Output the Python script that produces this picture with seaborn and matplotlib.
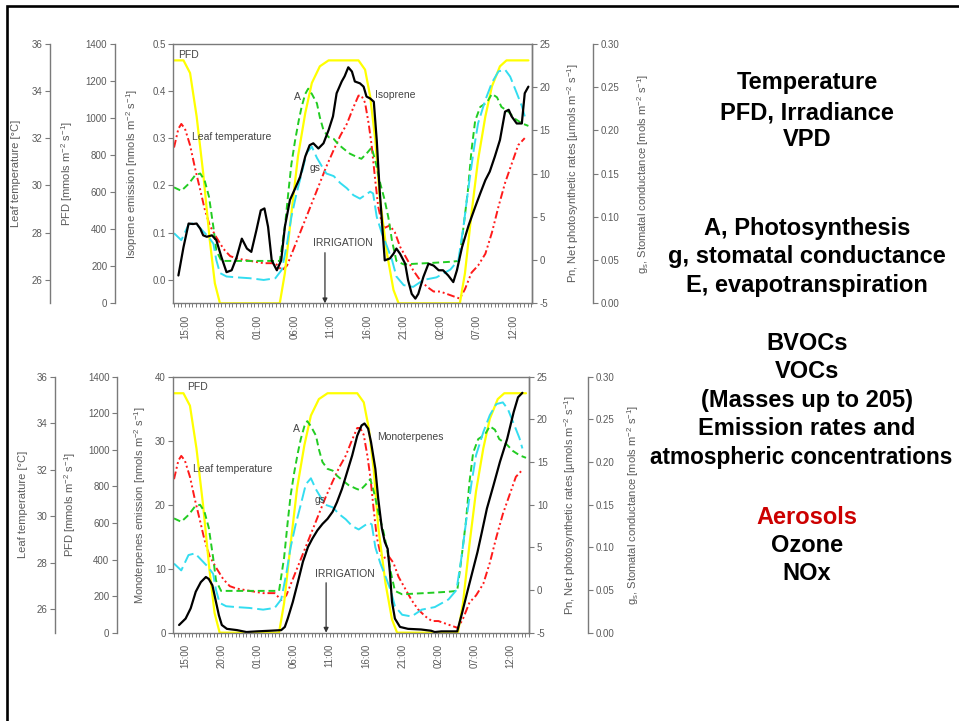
import matplotlib
matplotlib.use("Agg")
import matplotlib.pyplot as plt
import matplotlib.ticker as mticker
from matplotlib.patches import Rectangle
import seaborn as sns

# time axis: hours counted from 15:00 of the first day
time_ticks = [0, 5, 10, 15, 20, 25, 30, 35, 40, 45]
time_labels = ["15:00", "20:00", "01:00", "06:00", "11:00",
               "16:00", "21:00", "02:00", "07:00", "12:00"]

# PFD [mmols m-2 s-1]
t_pfd = [-1.6, -0.2, 0.7, 1.6, 2.5, 3.4, 4.1, 4.8, 13.0, 13.7, 14.6, 15.5, 16.5,
         17.4, 18.5, 19.7, 23.8, 24.7, 25.4, 26.1, 26.7, 27.7, 28.6, 29.3, 37.7,
         38.4, 39.3, 40.2, 41.2, 42.1, 43.2, 44.1, 47.1]
pfd = [1310, 1310, 1242, 1008, 702, 342, 108, 0, 0, 162, 486, 792, 1026,
       1188, 1278, 1310, 1310, 1260, 1116, 882, 576, 270, 72, 0, 0,
       162, 486, 774, 1008, 1170, 1278, 1310, 1310]

# leaf temperature [C]
t_temp = [-1.5, -0.9, -0.5, 0.0, 0.7, 1.4, 2.1, 2.7, 3.4, 4.3, 5.3, 6.2, 7.1, 8.9,
          10.8, 12.4, 13.3, 14.0, 14.9, 15.8, 16.7, 17.6, 18.5, 19.4, 20.4, 21.3,
          22.2, 23.1, 23.8, 24.2, 24.7, 25.2, 25.6, 26.1, 26.5, 27.0, 27.4, 28.1,
          28.8, 29.5, 30.4, 31.3, 32.2, 33.2, 34.1, 35.0, 35.9, 36.8, 37.7, 38.4,
          39.3, 40.2, 41.2, 42.1, 43.0, 43.9, 44.8, 45.7, 46.6]
temp = [31.6, 32.4, 32.6, 32.4, 31.7, 30.7, 29.8, 29.0, 28.3, 27.8, 27.3, 27.0, 26.9, 26.8,
        26.7, 26.7, 26.4, 26.6, 27.3, 28.0, 28.7, 29.4, 30.1, 30.8, 31.5, 32.1,
        32.6, 33.3, 33.8, 33.8, 33.5, 32.6, 31.7, 30.2, 29.1, 28.4, 28.2, 28.3,
        28.0, 27.4, 26.9, 26.4, 26.0, 25.7, 25.5, 25.5, 25.4, 25.3, 25.2, 25.6,
        26.3, 26.6, 27.1, 28.0, 29.1, 30.1, 30.9, 31.7, 32.0]

# A, net photosynthetic rate [umols m-2 s-1]
t_a = [-1.5, -0.5, 0.5, 1.4, 2.1, 2.7, 3.3, 3.9, 4.3, 5.0, 7.1, 9.8, 13.0, 13.7,
       14.2, 14.6, 15.1, 15.6, 16.0, 16.5, 16.9, 17.4, 18.1, 18.5, 19.0, 19.7,
       20.4, 21.0, 21.7, 22.6, 23.6, 24.2, 24.9, 25.6, 26.1, 26.8, 27.4, 27.9,
       28.4, 29.0, 30.0, 32.2, 34.5, 36.4, 37.6, 38.2, 38.8, 39.3, 39.8, 40.5,
       41.4, 42.1, 42.8, 43.4, 44.4, 45.3, 46.2, 47.1]
a_rate = [8.4, 8.0, 8.8, 9.8, 10.0, 9.2, 7.3, 3.8, 1.1, -0.1, -0.1, -0.1, -0.1, 3.8,
          8.0, 11.1, 13.8, 16.1, 17.7, 19.2, 19.8, 19.2, 18.1, 16.5, 15.0, 14.2,
          14.0, 13.4, 12.9, 12.3, 11.9, 11.7, 12.3, 13.0, 11.5, 8.8, 6.9, 4.9,
          2.2, -0.1, -0.5, -0.4, -0.3, -0.2, -0.1, 3.8, 8.0, 12.7, 16.1, 17.7,
          18.2, 19.2, 18.8, 17.7, 17.1, 16.3, 15.8, 15.5]

# gs, stomatal conductance [mols m-2 s-1]
t_gs = [-1.5, -0.5, 0.5, 1.4, 2.3, 3.2, 3.9, 4.3, 4.8, 5.7, 7.1, 8.9, 10.8, 12.4,
        13.3, 14.0, 14.6, 15.3, 16.0, 16.7, 17.4, 18.1, 18.8, 19.4, 20.4, 21.3,
        22.2, 23.1, 24.0, 24.7, 25.4, 25.8, 26.3, 27.0, 27.7, 28.4, 29.0, 30.0,
        31.3, 32.7, 34.5, 36.4, 37.5, 38.2, 38.9, 39.6, 40.2, 41.2, 42.1, 43.0,
        43.9, 44.6, 45.5, 46.2, 46.6]
gs = [0.081, 0.073, 0.091, 0.093, 0.085, 0.077, 0.069, 0.050, 0.035, 0.031, 0.030, 0.029,
      0.027, 0.029, 0.039, 0.069, 0.100, 0.127, 0.150, 0.174, 0.181, 0.168, 0.158, 0.150,
      0.147, 0.139, 0.133, 0.125, 0.121, 0.125, 0.129, 0.127, 0.100, 0.081, 0.066, 0.050,
      0.031, 0.021, 0.019, 0.027, 0.030, 0.039, 0.050, 0.089, 0.135, 0.177, 0.208, 0.235,
      0.255, 0.268, 0.270, 0.262, 0.243, 0.228, 0.216]

# isoprene emission [nmols m-2 s-1]
t_iso = [-0.9, -0.2, 0.5, 1.1, 1.6, 2.1, 2.5, 3.0, 3.7, 4.3, 5.0, 5.7, 6.4, 7.1, 7.8,
         8.5, 9.1, 9.8, 10.4, 10.9, 11.4, 11.9, 12.6, 13.2, 13.7, 14.4, 15.1, 15.8,
         16.5, 17.1, 17.6, 18.3, 19.0, 19.7, 20.3, 20.8, 21.5, 21.9, 22.4, 22.9,
         23.3, 24.0, 24.5, 24.9, 25.4, 25.9, 26.3, 26.7, 27.2, 27.4, 28.1, 28.6,
         29.0, 29.5, 30.2, 30.6, 31.1, 31.6, 32.0, 32.7, 33.4, 34.1, 34.8, 35.4,
         36.1, 36.8, 37.3, 38.0, 38.9, 39.8, 40.5, 41.2, 41.8, 42.5, 43.2, 43.9,
         44.4, 44.8, 45.5, 46.2, 46.6, 47.1]
iso = [0.009, 0.069, 0.119, 0.118, 0.119, 0.108, 0.094, 0.091, 0.094, 0.084, 0.048, 0.016,
       0.020, 0.048, 0.087, 0.066, 0.059, 0.105, 0.147, 0.151, 0.112, 0.041, 0.020, 0.041,
       0.112, 0.169, 0.193, 0.218, 0.261, 0.285, 0.289, 0.278, 0.289, 0.317, 0.346, 0.395,
       0.420, 0.431, 0.450, 0.441, 0.420, 0.416, 0.409, 0.388, 0.384, 0.377, 0.296, 0.190,
       0.084, 0.041, 0.045, 0.055, 0.066, 0.055, 0.034, -0.001, -0.030, -0.040, -0.030, 0.006,
       0.034, 0.030, 0.020, 0.020, 0.009, -0.005, 0.020, 0.069, 0.115, 0.154, 0.183, 0.211,
       0.229, 0.261, 0.296, 0.356, 0.360, 0.346, 0.331, 0.331, 0.395, 0.409]

# monoterpenes emission [nmols m-2 s-1]
t_mono = [-0.8, 0.1, 0.8, 1.5, 2.2, 2.9, 3.3, 3.8, 4.2, 4.7, 5.1, 5.8, 7.2, 8.5, 9.9,
          11.7, 13.3, 13.8, 14.2, 14.9, 15.6, 16.3, 17.0, 17.6, 18.3, 19.0, 19.7,
          20.4, 21.0, 21.7, 22.4, 23.1, 23.8, 24.4, 24.8, 25.3, 25.7, 26.3, 26.7,
          27.2, 27.6, 28.0, 28.3, 28.6, 29.0, 29.7, 30.8, 32.6, 34.0, 34.5, 35.4,
          36.7, 37.6, 38.3, 39.0, 39.7, 40.4, 41.0, 41.7, 42.6, 43.5, 44.5, 45.4,
          46.0, 46.6]
mono = [1.2, 2.2, 3.8, 6.4, 7.9, 8.7, 8.4, 7.4, 5.3, 2.7, 1.2, 0.6, 0.4, 0.1, 0.2,
        0.3, 0.4, 0.9, 2.2, 4.8, 7.9, 11.1, 13.4, 14.7, 16.0, 17.0, 17.8,
        18.9, 20.4, 22.5, 25.1, 27.7, 30.8, 32.4, 32.7, 31.9, 29.8, 25.6, 20.9,
        16.3, 14.2, 13.1, 9.5, 4.8, 2.2, 0.9, 0.6, 0.5, 0.3, 0.1, 0.2,
        0.2, 0.2, 3.2, 6.4, 9.5, 12.6, 15.7, 19.4, 23.0, 26.7, 30.3, 34.5,
        36.8, 37.5]

side_lines = [
    ("Temperature", 82, "black"), ("PFD, Irradiance", 113, "black"), ("VPD", 140, "black"),
    ("A, Photosynthesis", 228, "black"), ("g, stomatal conductance", 256, "black"),
    ("E, evapotranspiration", 285, "black"),
    ("BVOCs", 343, "black"), ("VOCs", 372, "black"), ("(Masses up to 205)", 401, "black"),
    ("Emission rates and", 429, "black"), ("atmospheric concentrations", 457, "black"),
    ("Aerosols", 517, "#cc0000"), ("Ozone", 545, "black"), ("NOx", 573, "black"),
]

sns.set_style("ticks")
plt.rcParams["font.family"] = ["Liberation Sans", "DejaVu Sans"]
plt.rcParams["mathtext.default"] = "regular"

GREY = "#7a7a7a"
TXT = "#5a5a5a"
UNIT = " [nmols m$^{-2}$ s$^{-1}$]"

fig = plt.figure(figsize=(9.59, 7.21), dpi=100)


def style_y(a, side, ticks, fmt):
    a.set_yticks(ticks)
    a.yaxis.set_major_formatter(mticker.FormatStrFormatter(fmt))
    a.tick_params(axis="y", which="both", direction="out", length=3.5, width=0.8,
                  color=GREY, labelcolor=TXT, labelsize=7, pad=2)
    if side == "left":
        a.yaxis.tick_left()
        a.yaxis.set_label_position("left")


def panel(rect, t_black, v_black, black_name, ylim, yticks, yfmt, sp, lab, notes, arrow_x):
    ax = fig.add_axes(rect)
    ax_t = ax.twinx()
    ax_p = ax.twinx()
    ax_n = ax.twinx()
    ax_g = ax.twinx()

    sns.lineplot(x=t_pfd, y=pfd, ax=ax_p, color="#ffff00", lw=1.6, estimator=None)
    sns.lineplot(x=t_temp, y=temp, ax=ax_t, color="#ff1a1a", lw=1.4, estimator=None,
                 linestyle=(0, (4, 1.5, 1, 1.5, 1, 1.5)))
    sns.lineplot(x=t_a, y=a_rate, ax=ax_n, color="#22cc22", lw=1.4, estimator=None,
                 linestyle=(0, (3.5, 2)))
    sns.lineplot(x=t_gs, y=gs, ax=ax_g, color="#33ddf0", lw=1.4, estimator=None,
                 linestyle=(0, (7, 2.5)))
    sns.lineplot(x=t_black, y=v_black, ax=ax, color="black", lw=1.6, estimator=None)

    for a in (ax, ax_t, ax_p, ax_n, ax_g):
        a.set_xlim(-1.6, 47.55)
        a.set_xlabel("")
        a.set_ylabel("")

    # main axis (emission) with the full box
    ax.set_ylim(*ylim)
    style_y(ax, "left", yticks, yfmt)
    for s in ax.spines.values():
        s.set_color(GREY)
        s.set_linewidth(1.0)
    ax.set_zorder(5)
    ax.patch.set_visible(False)
    ax.set_ylabel(black_name + UNIT, fontsize=8, color=TXT)
    ax.yaxis.set_label_coords(lab[2], 0.5)

    ax.set_xticks(time_ticks)
    ax.set_xticklabels(time_labels, rotation=90)
    ax.xaxis.set_minor_locator(mticker.MultipleLocator(0.5))
    ax.tick_params(axis="x", which="both", direction="out", length=3, width=0.7,
                   color=GREY, labelcolor=TXT, labelsize=7, pad=5)

    # offset left axes: leaf temperature and PFD
    for a, pos, lim, ticks, fmt, name, lx in (
            (ax_t, sp[0], (25, 36), range(26, 37, 2), "%d", "Leaf temperature [\u00b0C]", lab[0]),
            (ax_p, sp[1], (0, 1400), range(0, 1401, 200), "%d", "PFD [mmols m$^{-2}$ s$^{-1}$]", lab[1])):
        a.set_ylim(*lim)
        style_y(a, "left", list(ticks), fmt)
        for k in ("right", "top", "bottom"):
            a.spines[k].set_visible(False)
        a.spines["left"].set_position(("axes", pos))
        a.spines["left"].set_color(GREY)
        a.spines["left"].set_linewidth(1.0)
        a.set_ylabel(name, fontsize=8, color=TXT)
        a.yaxis.set_label_coords(lx, 0.5)

    # right axes: photosynthesis and stomatal conductance
    for a, pos, lim, ticks, fmt, name, lx in (
            (ax_n, 1.0, (-5, 25), range(-5, 26, 5), "%d",
             "Pn, Net photosynthetic rates [\u00b5mols m$^{-2}$ s$^{-1}$]", lab[3]),
            (ax_g, sp[2], (0, 0.30), [0, 0.05, 0.10, 0.15, 0.20, 0.25, 0.30], "%.2f",
             "g$_s$, Stomatal conductance [mols m$^{-2}$ s$^{-1}$]", lab[4])):
        a.set_ylim(*lim)
        style_y(a, "right", list(ticks), fmt)
        for k in ("left", "top", "bottom"):
            a.spines[k].set_visible(False)
        a.spines["right"].set_position(("axes", pos))
        a.spines["right"].set_color(GREY)
        a.spines["right"].set_linewidth(1.0)
        a.set_ylabel(name, fontsize=8, color=TXT)
        a.yaxis.set_label_coords(lx, 0.5)

    for s, fx, fy, ha in notes:
        ax.text(fx, fy, s, transform=ax.transAxes, fontsize=7.5, color="#444444",
                ha=ha, va="center")
    ax.annotate("", xy=(arrow_x, 0.0), xytext=(arrow_x, 0.195),
                xycoords=("data", "axes fraction"), textcoords=("data", "axes fraction"),
                arrowprops=dict(arrowstyle="-|>", color="#333333", lw=0.9,
                                mutation_scale=7, shrinkA=0, shrinkB=0))
    return ax


panel([0.1807, 0.5793, 0.3737, 0.3601], t_iso, iso, "Isoprene emission",
      (-0.05, 0.5), [0.0, 0.1, 0.2, 0.3, 0.4, 0.5], "%.1f",
      (-0.344, -0.163, 1.171), (-0.425, -0.274, -0.093, 1.093, 1.288),
      [("PFD", 0.013, 0.957, "left"), ("A", 0.345, 0.795, "center"),
       ("Isoprene", 0.562, 0.802, "left"), ("Leaf temperature", 0.052, 0.641, "left"),
       ("gs", 0.381, 0.521, "left"), ("IRRIGATION", 0.39, 0.232, "left")],
      19.2)

panel([0.1807, 0.1225, 0.3712, 0.3549], t_mono, mono, "Monoterpenes emission",
      (0, 40), [0, 10, 20, 30, 40], "%d",
      (-0.332, -0.158, 1.165), (-0.408, -0.268, -0.071, 1.092, 1.269),
      [("PFD", 0.038, 0.960, "left"), ("A", 0.347, 0.796, "center"),
       ("Monoterpenes", 0.572, 0.765, "left"), ("Leaf temperature", 0.055, 0.639, "left"),
       ("gs", 0.398, 0.519, "left"), ("IRRIGATION", 0.398, 0.229, "left")],
      19.5)

for text, ypix, col in side_lines:
    # the widest line is kept inside the right edge
    wide = text.startswith("atmospheric")
    fig.text((801 if wide else 807) / 959, 1 - ypix / 721, text, ha="center", va="center",
             fontsize=16.3 if wide else 17, fontweight="bold", color=col)

# slide frame (top and left edges are visible)
fig.add_artist(Rectangle((6.5 / 959, -0.05), 1.2, 1.05 - 6.3 / 721, transform=fig.transFigure,
                         fill=False, edgecolor="black", linewidth=1.9))

fig.savefig("out.png", dpi=100, facecolor="white")
